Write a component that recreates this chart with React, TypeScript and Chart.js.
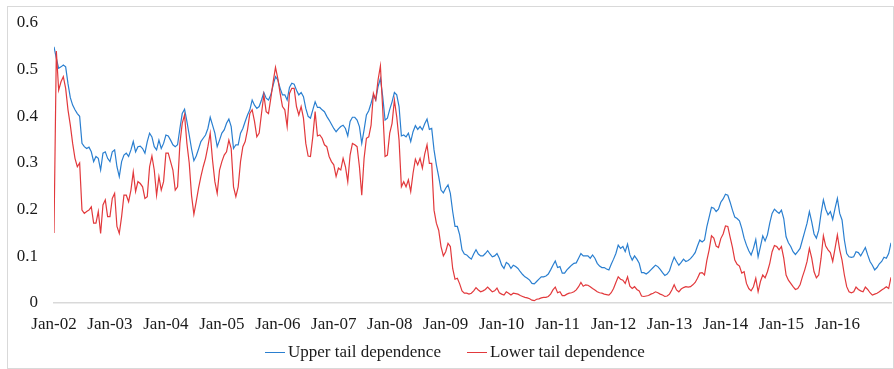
import React, { useEffect, useRef } from 'react';
import { Chart, registerables } from 'chart.js';

Chart.register(...registerables);

// Half-monthly observations starting Jan 2002 (24 per year)
const START_YEAR = 2002;
const POINTS_PER_YEAR = 24;

const yearLabels = [
  'Jan-02', 'Jan-03', 'Jan-04', 'Jan-05', 'Jan-06', 'Jan-07', 'Jan-08', 'Jan-09',
  'Jan-10', 'Jan-11', 'Jan-12', 'Jan-13', 'Jan-14', 'Jan-15', 'Jan-16',
];

const yTicks = [0, 0.1, 0.2, 0.3, 0.4, 0.5, 0.6];

const seriesNames = ['Upper tail dependence', 'Lower tail dependence'];

const upperTail = [
  0.549, 0.524, 0.503, 0.506, 0.51, 0.506, 0.47, 0.44, 0.424, 0.414, 0.406, 0.40,
  0.342, 0.335, 0.331, 0.334, 0.324, 0.303, 0.314, 0.31, 0.285, 0.321, 0.324, 0.31,
  0.303, 0.324, 0.328, 0.292, 0.271, 0.303, 0.317, 0.321, 0.314, 0.328, 0.346, 0.324,
  0.335, 0.336, 0.331, 0.321, 0.346, 0.364, 0.356, 0.335, 0.328, 0.349, 0.331, 0.342,
  0.36, 0.358, 0.349, 0.339, 0.335, 0.339, 0.374, 0.406, 0.415, 0.389, 0.36, 0.33,
  0.305, 0.315, 0.33, 0.346, 0.353, 0.36, 0.374, 0.398, 0.381, 0.364, 0.335, 0.349,
  0.364, 0.371, 0.385, 0.394, 0.378, 0.331, 0.339, 0.339, 0.364, 0.374, 0.389, 0.403,
  0.414, 0.435, 0.424, 0.417, 0.421, 0.435, 0.451, 0.439, 0.435, 0.446, 0.467, 0.485,
  0.478, 0.46, 0.446, 0.446, 0.435, 0.462, 0.471, 0.469, 0.456, 0.446, 0.451, 0.442,
  0.417, 0.40, 0.396, 0.414, 0.431, 0.419, 0.419, 0.414, 0.41, 0.40, 0.392, 0.383,
  0.374, 0.367, 0.373, 0.378, 0.381, 0.374, 0.358, 0.389, 0.398, 0.398, 0.392, 0.378,
  0.342, 0.371, 0.403, 0.412, 0.428, 0.446, 0.435, 0.464, 0.481, 0.442, 0.392, 0.396,
  0.415, 0.431, 0.451, 0.446, 0.421, 0.358, 0.36, 0.356, 0.364, 0.346, 0.367, 0.38,
  0.372, 0.378, 0.371, 0.384, 0.394, 0.372, 0.374, 0.328, 0.296, 0.271, 0.242, 0.236,
  0.246, 0.253, 0.235, 0.196, 0.164, 0.164, 0.146, 0.114, 0.105, 0.103, 0.098, 0.094,
  0.105, 0.114, 0.105, 0.101, 0.101, 0.106, 0.112, 0.105, 0.099, 0.101, 0.106, 0.096,
  0.081, 0.074, 0.087, 0.083, 0.074, 0.081, 0.078, 0.074, 0.067, 0.061, 0.056, 0.053,
  0.049, 0.042, 0.041, 0.046, 0.051, 0.056, 0.056, 0.058, 0.062, 0.071, 0.081, 0.09,
  0.076, 0.078, 0.064, 0.064, 0.071, 0.076, 0.081, 0.085, 0.086, 0.096, 0.106, 0.101,
  0.101, 0.101, 0.096, 0.103, 0.096, 0.085, 0.079, 0.076, 0.076, 0.073, 0.071, 0.083,
  0.094, 0.106, 0.124, 0.117, 0.121, 0.11, 0.126, 0.103, 0.092, 0.101, 0.094, 0.085,
  0.065, 0.065, 0.062, 0.066, 0.071, 0.076, 0.081, 0.078, 0.072, 0.065, 0.059, 0.062,
  0.069, 0.085, 0.098, 0.089, 0.081, 0.087, 0.094, 0.089, 0.091, 0.095, 0.101, 0.108,
  0.122, 0.135, 0.131, 0.135, 0.163, 0.184, 0.205, 0.203, 0.196, 0.201, 0.216, 0.223,
  0.233, 0.231, 0.216, 0.199, 0.184, 0.181, 0.176, 0.16, 0.139, 0.124, 0.112, 0.103,
  0.117, 0.136, 0.099, 0.121, 0.144, 0.133, 0.146, 0.171, 0.192, 0.201, 0.196, 0.192,
  0.199, 0.181, 0.142, 0.129, 0.121, 0.11, 0.104, 0.11, 0.117, 0.135, 0.153, 0.171,
  0.196, 0.174, 0.148, 0.139, 0.156, 0.192, 0.221, 0.201, 0.189, 0.196, 0.179, 0.203,
  0.224, 0.192, 0.178, 0.135, 0.106, 0.099, 0.098, 0.099, 0.11, 0.108, 0.101, 0.11,
  0.119, 0.103, 0.089, 0.081, 0.071, 0.076, 0.084, 0.089, 0.098, 0.096, 0.106, 0.129,
];

const lowerTail = [
  0.15, 0.54, 0.456, 0.474, 0.485, 0.46, 0.414, 0.381, 0.342, 0.31, 0.292, 0.30,
  0.199, 0.192, 0.196, 0.199, 0.206, 0.171, 0.171, 0.196, 0.149, 0.21, 0.221, 0.185,
  0.185, 0.224, 0.235, 0.164, 0.149, 0.185, 0.231, 0.231, 0.217, 0.242, 0.281, 0.239,
  0.26, 0.256, 0.249, 0.224, 0.228, 0.292, 0.315, 0.285, 0.231, 0.271, 0.242, 0.26,
  0.321, 0.321, 0.303, 0.285, 0.242, 0.249, 0.342, 0.385, 0.403, 0.342, 0.30, 0.23,
  0.19, 0.217, 0.246, 0.271, 0.292, 0.31, 0.335, 0.364, 0.306, 0.26, 0.235, 0.285,
  0.303, 0.317, 0.324, 0.349, 0.331, 0.249, 0.228, 0.249, 0.303, 0.335, 0.346, 0.371,
  0.406, 0.414, 0.389, 0.356, 0.364, 0.406, 0.446, 0.41, 0.406, 0.439, 0.474, 0.505,
  0.481, 0.449, 0.421, 0.414, 0.378, 0.449, 0.46, 0.46, 0.421, 0.403, 0.421, 0.396,
  0.342, 0.315, 0.314, 0.356, 0.41, 0.358, 0.36, 0.353, 0.339, 0.335, 0.314, 0.303,
  0.296, 0.271, 0.289, 0.285, 0.31, 0.292, 0.26, 0.317, 0.342, 0.339, 0.335, 0.292,
  0.231, 0.31, 0.353, 0.356, 0.381, 0.449, 0.435, 0.478, 0.508, 0.414, 0.314, 0.317,
  0.364, 0.385, 0.435, 0.399, 0.349, 0.249, 0.26, 0.249, 0.264, 0.239, 0.278, 0.308,
  0.296, 0.31, 0.289, 0.319, 0.339, 0.299, 0.299, 0.199, 0.171, 0.156, 0.121, 0.101,
  0.11, 0.128, 0.121, 0.074, 0.051, 0.053, 0.041, 0.026, 0.021, 0.021, 0.019, 0.021,
  0.026, 0.033, 0.028, 0.024, 0.026, 0.029, 0.034, 0.029, 0.024, 0.026, 0.032, 0.022,
  0.019, 0.017, 0.024, 0.021, 0.017, 0.021, 0.02, 0.019, 0.016, 0.014, 0.012, 0.011,
  0.009, 0.006, 0.005, 0.008, 0.009, 0.011, 0.012, 0.012, 0.014, 0.019, 0.028, 0.034,
  0.022, 0.024, 0.016, 0.016, 0.019, 0.021, 0.022, 0.024, 0.028, 0.035, 0.044, 0.036,
  0.039, 0.038, 0.035, 0.031, 0.028, 0.024, 0.022, 0.021, 0.019, 0.018, 0.017, 0.022,
  0.031, 0.044, 0.056, 0.051, 0.049, 0.042, 0.056, 0.036, 0.031, 0.035, 0.029, 0.026,
  0.015, 0.014, 0.015, 0.016, 0.019, 0.021, 0.024, 0.022, 0.019, 0.017, 0.014, 0.015,
  0.019, 0.028, 0.039, 0.028, 0.024, 0.03, 0.033, 0.035, 0.034, 0.035, 0.039, 0.044,
  0.053, 0.064, 0.065, 0.06, 0.091, 0.114, 0.144, 0.139, 0.122, 0.119, 0.138, 0.148,
  0.165, 0.164, 0.141, 0.119, 0.092, 0.083, 0.079, 0.064, 0.067, 0.042, 0.031, 0.026,
  0.035, 0.053, 0.024, 0.046, 0.06, 0.054, 0.067, 0.085, 0.11, 0.123, 0.121, 0.114,
  0.121, 0.096, 0.06, 0.049, 0.042, 0.035, 0.029, 0.031, 0.039, 0.056, 0.071, 0.089,
  0.117, 0.096, 0.067, 0.054, 0.06, 0.096, 0.144, 0.122, 0.114, 0.108, 0.089, 0.117,
  0.146, 0.114, 0.092, 0.06, 0.035, 0.024, 0.022, 0.024, 0.034, 0.029, 0.026, 0.024,
  0.034, 0.029, 0.022, 0.017, 0.019, 0.021, 0.024, 0.028, 0.031, 0.035, 0.031, 0.055,
];

const BLUE = '#2a7fd0';
const RED = '#e2393c';
const TEXT = '#1a1a1a';
const LINE_GRAY = '#d9d9d9';
const FONT_FAMILY = "'Liberation Serif', 'Times New Roman', serif";
const FONT = { family: FONT_FAMILY, size: 17 };

export default function App() {
  const canvasRef = useRef<HTMLCanvasElement | null>(null);

  useEffect(() => {
    const canvas = canvasRef.current;
    if (!canvas) return;
    const toPoints = (arr: number[]) =>
      arr.map((v, i) => ({ x: START_YEAR + i / POINTS_PER_YEAR, y: v }));

    const chart = new Chart(canvas, {
      type: 'line',
      data: {
        datasets: [
          {
            label: seriesNames[0],
            data: toPoints(upperTail),
            borderColor: BLUE,
            backgroundColor: BLUE,
            borderWidth: 1.2,
            pointRadius: 0,
            tension: 0,
            order: 1,
          },
          {
            label: seriesNames[1],
            data: toPoints(lowerTail),
            borderColor: RED,
            backgroundColor: RED,
            borderWidth: 1.2,
            pointRadius: 0,
            tension: 0,
            order: 0,
          },
        ],
      },
      options: {
        animation: false,
        responsive: false,
        devicePixelRatio: 1,
        layout: { padding: { left: 0, right: 2, top: 16, bottom: 35 } },
        scales: {
          x: {
            type: 'linear',
            min: START_YEAR,
            max: START_YEAR + (upperTail.length - 1) / POINTS_PER_YEAR,
            afterBuildTicks: (scale: any) => {
              scale.ticks = yearLabels.map((_, i) => ({ value: START_YEAR + i }));
            },
            afterFit: (scale: any) => {
              scale.height = 30;
              scale.paddingLeft = 0;
              scale.paddingRight = 0;
            },
            ticks: {
              callback: (v: any) => yearLabels[Math.round(Number(v) - START_YEAR)] ?? '',
              autoSkip: false,
              maxRotation: 0,
              minRotation: 0,
              padding: 11,
              font: FONT,
              color: TEXT,
            },
            grid: { display: false, drawTicks: false },
            border: { display: true, color: LINE_GRAY, width: 1.5 },
          },
          y: {
            min: 0,
            max: 0.6,
            afterBuildTicks: (scale: any) => {
              scale.ticks = yTicks.map((v) => ({ value: v }));
            },
            afterFit: (scale: any) => {
              scale.width = 46;
              scale.paddingTop = 0;
              scale.paddingBottom = 0;
            },
            ticks: {
              callback: (v: any) => String(+Number(v).toFixed(1)),
              padding: 16,
              font: FONT,
              color: TEXT,
            },
            grid: { display: false, drawTicks: false },
            border: { display: false },
          },
        },
        plugins: {
          legend: { display: false },
          tooltip: { enabled: false },
        },
      },
    });
    return () => chart.destroy();
  }, []);

  const legendItem = (color: string, text: string, marginLeft: number) => (
    <div style={{ display: 'flex', alignItems: 'center', marginLeft }}>
      <span style={{ display: 'inline-block', width: 20, height: 0, borderTop: `1.5px solid ${color}`, marginRight: 3 }} />
      <span>{text}</span>
    </div>
  );

  return (
    <div
      style={{
        position: 'absolute',
        left: 7,
        top: 6,
        width: 885,
        height: 361,
        border: `1px solid ${LINE_GRAY}`,
        background: '#fff',
      }}
    >
      <canvas
        ref={canvasRef}
        width={885}
        height={361}
        style={{ position: 'absolute', left: 0, top: 0, width: 885, height: 361 }}
      />
      <div
        style={{
          position: 'absolute',
          left: 257,
          top: 335,
          display: 'flex',
          alignItems: 'center',
          fontFamily: FONT_FAMILY,
          fontSize: 17,
          lineHeight: '20px',
          color: TEXT,
          whiteSpace: 'nowrap',
        }}
      >
        {legendItem(BLUE, seriesNames[0], 0)}
        {legendItem(RED, seriesNames[1], 26)}
      </div>
    </div>
  );
}
